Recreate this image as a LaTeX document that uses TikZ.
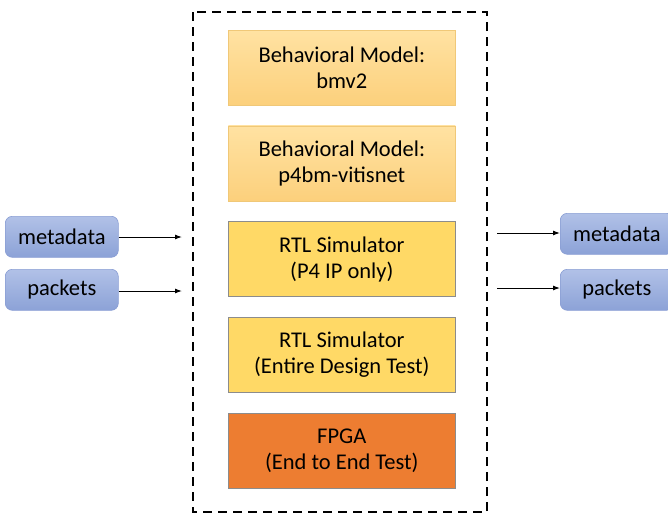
\documentclass[tikz,border=0pt]{standalone}
\usepackage{fontspec}
\setmainfont{Carlito}
\usetikzlibrary{arrows.meta}
\usetikzlibrary{positioning}
\definecolor{modeltop}{HTML}{FFE2A2}
\definecolor{modelbot}{HTML}{FCD07C}
\definecolor{modelline}{HTML}{F0C878}
\definecolor{rtlfill}{HTML}{FFD966}
\definecolor{fpgafill}{HTML}{ED7D31}
\definecolor{boxline}{HTML}{8C8C8C}
\definecolor{iotop}{HTML}{B1C1E7}
\definecolor{iobot}{HTML}{8CA2D7}
\definecolor{ioline}{HTML}{8A9ED4}
\tikzstyle{stage} = [rectangle, minimum width=227pt, minimum height=75pt, text centered, align=center, inner sep=0pt, font=\fontsize{22.5}{26}\selectfont]
\tikzstyle{model} = [stage, top color=modeltop, bottom color=modelbot, draw=modelline, line width=0.6pt]
\tikzstyle{rtl} = [stage, fill=rtlfill, draw=boxline, line width=0.8pt]
\tikzstyle{fpga} = [stage, fill=fpgafill, draw=boxline, line width=0.8pt]
\tikzstyle{io} = [rectangle, rounded corners=7pt, minimum width=113pt, minimum height=41pt, inner sep=0pt, top color=iotop, bottom color=iobot, draw=ioline, line width=0.6pt, font=\fontsize{22.5}{26}\selectfont]
\tikzstyle{flow} = [-{Latex[length=7pt,width=5pt]}, line width=1pt]

\begin{document}
\begin{tikzpicture}[x=1pt, y=-1pt, node distance=20pt]
 \useasboundingbox (0,0) rectangle (668,515);

 % stack of targets
 \node (bmv) [model, anchor=north west] at (228,30) {Behavioral Model:\\bmv2};
 \node (vitis) [model, below=of bmv] {Behavioral Model:\\p4bm-vitisnet};
 \node (rtlip) [rtl, below=of vitis] {RTL Simulator\\(P4 IP only)};
 \node (rtlall) [rtl, below=of rtlip] {RTL Simulator\\(Entire Design Test)};
 \node (fpga) [fpga, below=of rtlall] {FPGA\\(End to End Test)};

 % dashed frame
 \draw[dashed, line width=2pt, dash pattern=on 9pt off 6pt] (193,12) rectangle (487,512);

 % inputs
 \node (inmeta) [io, anchor=north west] at (5,216) {metadata};
 \node (inpkt) [io, anchor=north west] at (5,269) {packets};
 \coordinate (inmetaend) at (182,237);
 \coordinate (inpktend) at (182,291);
 \draw[flow] (inmeta.east |- inmetaend) -- (inmetaend);
 \draw[flow] (inpkt.east |- inpktend) -- (inpktend);

 % outputs
 \node (outmeta) [io, anchor=north west] at (560,213) {metadata};
 \node (outpkt) [io, anchor=north west] at (560,269) {packets};
 \coordinate (outmetastart) at (497,233);
 \coordinate (outpktstart) at (497,288);
 \draw[flow] (outmetastart) -- (outmeta.west |- outmetastart);
 \draw[flow] (outpktstart) -- (outpkt.west |- outpktstart);
\end{tikzpicture}
\end{document}
